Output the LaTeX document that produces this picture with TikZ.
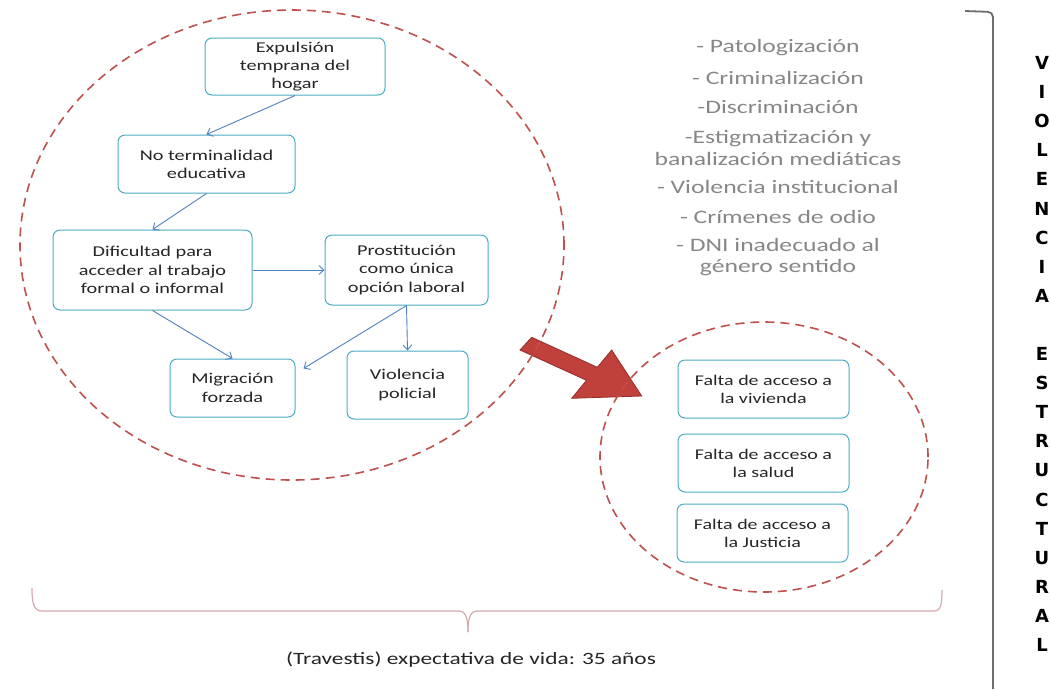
\documentclass[tikz,border=0pt]{standalone}
\usepackage{fontspec}
\setmainfont{Carlito}[FakeStretch=1.35]
\newfontfamily\vfont{DejaVu Sans Bold}
\usetikzlibrary{arrows.meta,calc}
\definecolor{boxline}{RGB}{75,172,198}
\definecolor{flow}{RGB}{79,129,189}
\definecolor{dashred}{RGB}{192,80,77}
\definecolor{bigred}{RGB}{192,64,60}
\definecolor{bigredline}{RGB}{150,45,45}
\definecolor{graytext}{RGB}{135,135,135}
\definecolor{boxtext}{RGB}{38,38,38}
\definecolor{bracegray}{RGB}{110,110,110}
\definecolor{bracepink}{RGB}{215,170,175}
\begin{document}
\begin{tikzpicture}[x=1pt,y=-1pt,
  box/.style={draw=boxline, line width=1pt, rounded corners=7pt, fill=white, align=center, text=boxtext, font=\fontsize{15}{18.3}\selectfont, inner sep=2pt},
  rbox/.style={box, font=\fontsize{14.8}{18}\selectfont, minimum width=171pt, minimum height=58pt},
  flowarrow/.style={draw=flow, line width=0.9pt, -{Straight Barb[length=5pt,width=9pt]}},
  zone/.style={draw=dashred, line width=1.6pt, dash pattern=on 9pt off 6pt},
  listtext/.style={text=graytext, align=center, font=\fontsize{19}{21.5}\selectfont, inner sep=0pt},
  vletter/.style={font=\vfont\fontsize{18}{18}\selectfont, inner sep=0pt},
  bottomtext/.style={text=boxtext, font=\fontsize{17.3}{20}\selectfont, inner sep=0pt}]
\useasboundingbox (0,0) rectangle (1051,689);
\fill[white] (0,0) rectangle (1051,689);

% big red arrow
\filldraw[fill=bigred, draw=bigredline, line width=0.8pt, line join=miter]
  (531.7,337.3) -- (597.3,367.3) -- (611.7,350) -- (641.7,396) -- (571.7,398.3) -- (586.5,380.3) -- (520,350) -- cycle;

% dashed zones
\draw[zone] (292,245) ellipse [x radius=272pt, y radius=235pt];
\draw[zone] (764,457) ellipse [x radius=164pt, y radius=135pt];

% left flow boxes
\node[box, minimum width=180pt, minimum height=57pt] (e1) at (295,66.5) {Expulsión\\temprana del\\hogar};
\node[box, minimum width=177pt, minimum height=58pt] (e2) at (206.5,164) {No terminalidad\\educativa};
\node[box, minimum width=199pt, minimum height=80pt] (e3) at (152.5,270) {Dificultad para\\acceder al trabajo\\formal o informal};
\node[box, minimum width=163pt, minimum height=70pt] (e4) at (406.5,270) {Prostitución\\como única\\opción laboral};
\node[box, minimum width=125pt, minimum height=58pt] (e5) at (232.5,388) {Migración\\forzada};
\node[box, minimum width=121pt, minimum height=68pt] (e6) at (407.5,385) {Violencia\\policial};

\coordinate (m5) at ($(e5.north east)+(8,10)$);
\draw[flowarrow] (e1.south) -- (e2.north);
\draw[flowarrow] (e2.south) -- (e3.north);
\draw[flowarrow] (e3.east) -- (e4.west);
\draw[flowarrow] (e3.south) -- (e5.north);
\draw[flowarrow] (e4.south) -- (e6.north);
\draw[flowarrow] (e4.south) -- (m5);

% right boxes
\node[rbox] (r1) at (763.5,389) {Falta de acceso a\\la vivienda};
\node[rbox] (r2) at (763.5,463) {Falta de acceso a\\la salud};
\node[rbox] (r3) at (762.5,533) {Falta de acceso a\\la Justicia};

% list
\node[listtext] (t1) at (778,48) {- Patologización};
\node[listtext] (t2) at (778,78) {- Criminalización};
\node[listtext] (t3) at (778,107) {-Discriminación};
\node[listtext] (t4) at (778,148) {-Estigmatización y\\banalización mediáticas};
\node[listtext] (t5) at (778,187) {- Violencia institucional};
\node[listtext] (t6) at (778,217) {- Crímenes de odio};
\node[listtext] (t7) at (778,257) {- DNI inadecuado al\\género sentido};

% right bracket
\draw[bracegray, line width=1.8pt, rounded corners=5pt] (965,11) -- (993,12) -- (993,689);

% vertical letters
\foreach \l [count=\i from 0] in {V,I,O,L,E,N,C,I,A}
  \node[vletter] (va\i) at (1042,{63+29.1*\i}) {\l};
\foreach \l [count=\i from 10] in {E,S,T,R,U,C,T,U,R,A,L}
  \node[vletter] (vb\i) at (1042,{63+29.1*\i}) {\l};

% bottom brace
\draw[bracepink, line width=1.2pt] (32,588) .. controls (32,604) and (34,611) .. (42,611) -- (458,611) .. controls (465,611) and (468,616) .. (468,632);
\draw[bracepink, line width=1.2pt] (468,632) .. controls (468,616) and (471,611) .. (478,611) -- (934,611) .. controls (941,611) and (942,604) .. (942,590);

\node[bottomtext] (life) at (471,660) {(Travestis) expectativa de vida: 35 años};
\end{tikzpicture}
\end{document}
